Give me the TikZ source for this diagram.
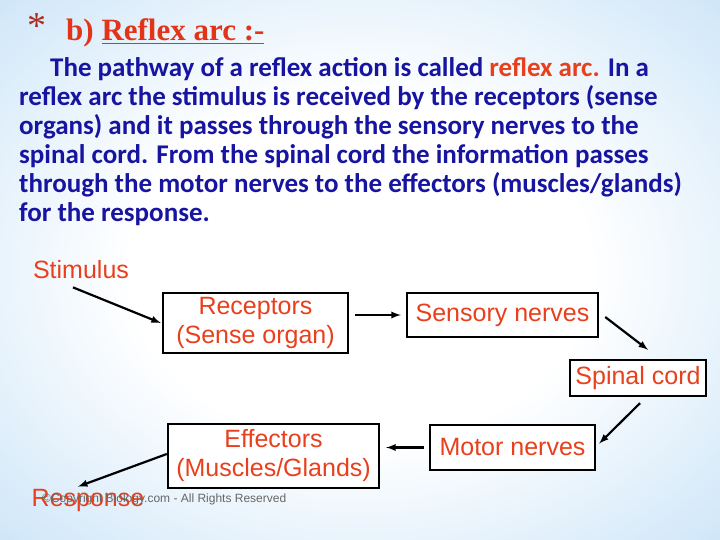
\documentclass[tikz,border=0pt]{standalone}
\usepackage{xcolor}
\usepackage{fontspec}
\usepackage{tikz}
\usetikzlibrary{positioning}
\setmainfont{Liberation Serif}
\newfontfamily\bodyfont{Carlito}
\newfontfamily\boxfont{Liberation Sans}
\definecolor{slideblue}{RGB}{172,212,244}
\definecolor{titlered}{RGB}{226,52,24}
\definecolor{starred}{RGB}{170,44,30}
\definecolor{textblue}{RGB}{22,20,160}
\definecolor{labelred}{RGB}{232,64,28}
\pgfdeclareradialshading{slidebg}{\pgfpoint{0bp}{0bp}}{color(0bp)=(white); color(16bp)=(white); color(50bp)=(slideblue); color(100bp)=(slideblue)}
\tikzset{
    block/.style={
        draw, line width = 2.4pt, fill = white,
        text = labelred, align = center,
        font = \boxfont\fontsize{25}{29}\selectfont,
        inner sep = 0pt
    },
    label/.style = {text = labelred, font = \boxfont\fontsize{25}{29}\selectfont, inner sep = 0pt},
    line/.style = {-latex, line width = 2.2pt}
}

\begin{document}
\begin{tikzpicture}[x=1pt, y=-1pt]

    % Background
    \useasboundingbox (0,0) rectangle (720,540);
    \shade[shading=slidebg] (0,0) rectangle (720,540);

    % Title
    \node[text = starred, font = \fontsize{38}{40}\selectfont, anchor = base, inner sep = 0pt] (star) at (37,39) {*};
    \node[text = titlered, font = \fontsize{31}{34}\selectfont\bfseries, anchor = base west, inner sep = 0pt] (title) at (66,41) {b) \underline{Reflex arc :-}};

    % Text
    \node[text = textblue, font = \bodyfont\bfseries\fontsize{27}{29}\selectfont, anchor = north west, align = left, inner sep = 0pt] (para) at (19,57)
        {\hspace*{31pt}The pathway of a reflex action is called \textcolor{labelred}{reflex arc.} In a\\
         reflex arc the stimulus is received by the receptors (sense\\
         organs) and it passes through the sensory nerves to the\\
         spinal cord. From the spinal cord the information passes\\
         through the motor nerves to the effectors (muscles/glands)\\
         for the response.};

    % Boxes
    \node[label] (stim) at (81,270) {Stimulus};
    \node[block, minimum width = 185pt, minimum height = 60pt] (rec) at (255.5,323) {Receptors\\(Sense organ)};
    \node[block, minimum width = 191pt, minimum height = 44pt] (sens) at (502.5,315) {Sensory nerves};
    \node[block, minimum width = 136pt, minimum height = 36pt] (spinal) at (638,378) {Spinal cord};
    \node[block, minimum width = 165pt, minimum height = 45pt] (motor) at (512.5,447.5) {Motor nerves};
    \node[block, minimum width = 211pt, minimum height = 64pt] (eff) at (273.5,456) {Effectors\\(Muscles/Glands)};
    \node[label] (resp) at (88,500) {Response};

    % Arrows
    \draw[line] ([xshift=-8pt, yshift=-8pt]stim.south) -- ([xshift=-1pt]rec.west);
    \draw[line, shorten < = 6pt, shorten > = 5pt] (rec.east |- sens.west) -- (sens.west);
    \draw[line] ([xshift=6pt, yshift=-2pt]sens.east) -- ([xshift=10pt, yshift=9pt]spinal.north);
    \draw[line] ([xshift=2pt, yshift=-6pt]spinal.south) -- ([xshift=3pt, yshift=4pt]motor.east);
    \draw[line, shorten < = 5pt, shorten > = 6pt] (motor.west) -- (motor.west -| eff.east);
    \draw[line] ([yshift=2pt]eff.west) -- ([xshift=-10pt, yshift=2pt]resp.north);

    % Watermark
    \node[text = black!60, font = \boxfont\fontsize{12}{14}\selectfont, anchor = west, inner sep = 0pt] (mark) at (42,499) {\textcopyright Copyright Biology.com - All Rights Reserved};

\end{tikzpicture}
\end{document}
